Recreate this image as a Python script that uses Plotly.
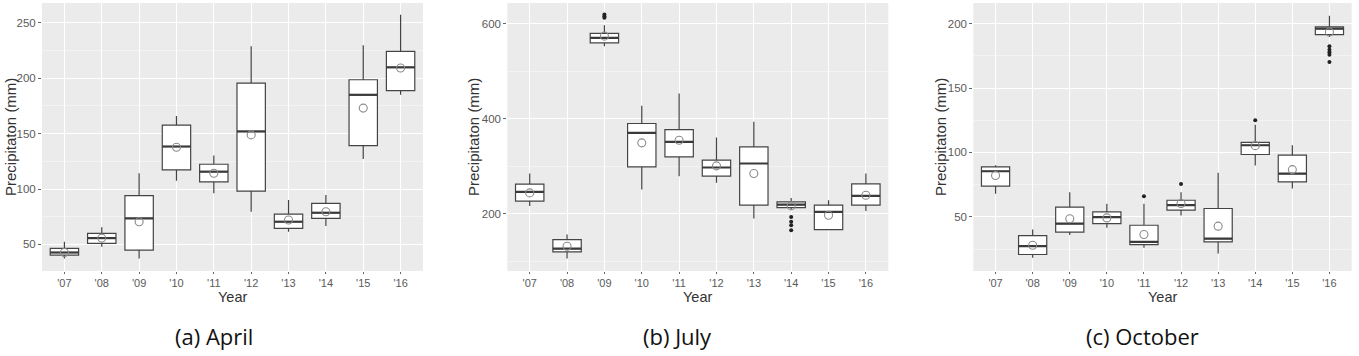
import plotly.graph_objects as go

W, H = 1359, 356
years = ["'07", "'08", "'09", "'10", "'11", "'12", "'13", "'14", "'15", "'16"]

# April
apr_low = [37.3, 47.9, 37.3, 107.6, 96.1, 79.5, 61.4, 66.6, 127.2, 185.1]
apr_q1 = [40.3, 50.9, 44.8, 117.3, 106.4, 98.2, 64.5, 73.5, 139.3, 188.8]
apr_med = [42.7, 55.7, 73.5, 138.4, 115.7, 152.0, 70.5, 78.6, 185.1, 209.9]
apr_q3 = [46.4, 60.0, 94.0, 157.7, 122.4, 195.7, 77.4, 87.1, 198.7, 224.4]
apr_high = [52.4, 65.4, 114.2, 166.0, 130.2, 228.9, 90.1, 94.6, 229.8, 257.5]
apr_mean = [42.7, 55.7, 70.5, 137.8, 114.2, 148.9, 72.0, 79.5, 173.1, 209.3]
apr_out_x = []
apr_out_y = []

# July
jul_low = [216.8, 106.1, 552.4, 251.1, 279.2, 265.2, 190.2, 209.1, 165.7, 206.3]
jul_q1 = [226.6, 120.2, 559.4, 298.8, 319.8, 279.2, 218.2, 213.3, 167.1, 218.2]
jul_med = [246.3, 127.2, 569.9, 370.2, 351.3, 297.4, 305.8, 219.6, 204.2, 237.8]
jul_q3 = [262.4, 146.1, 579.0, 389.9, 377.2, 312.8, 340.8, 225.2, 218.2, 263.1]
jul_high = [284.8, 156.6, 596.5, 427.0, 452.9, 360.4, 393.3, 233.6, 228.7, 284.8]
jul_mean = [244.1, 132.1, 573.4, 349.2, 354.8, 300.9, 284.8, 216.8, 197.2, 239.2]
jul_out_x = ["'09", "'09", "'09", "'14", "'14", "'14", "'14"]
jul_out_y = [612, 615, 619, 193.7, 183.2, 176.2, 165.7]

# October
oct_low = [67.9, 18.2, 36.0, 41.5, 26.0, 51.0, 21.6, 89.8, 72.0, 189.7]
oct_q1 = [73.8, 20.8, 38.1, 44.8, 28.5, 55.2, 30.6, 98.4, 77.2, 191.5]
oct_med = [85.4, 27.3, 44.8, 49.8, 30.6, 59.1, 33.2, 105.6, 83.6, 196.1]
oct_q3 = [88.8, 35.5, 57.5, 53.9, 43.5, 62.9, 56.5, 107.9, 97.9, 197.4]
oct_high = [90.1, 40.2, 69.1, 60.1, 60.1, 69.1, 84.2, 121.6, 105.6, 206.2]
oct_mean = [82.1, 28.0, 48.5, 49.2, 36.3, 60.4, 42.8, 105.3, 86.7, 193.5]
oct_out_x = ["'11", "'12", "'14", "'16", "'16", "'16", "'16", "'16"]
oct_out_y = [66.0, 75.6, 125.0, 182.4, 179.8, 177.8, 175.9, 170.3]

captions = ["(a) April", "(b) July", "(c) October"]
y_title = "Precipitaton (mm)"
x_title = "Year"

panels = [
    dict(low=apr_low, q1=apr_q1, med=apr_med, q3=apr_q3, high=apr_high, mean=apr_mean,
         ox=apr_out_x, oy=apr_out_y, px=(42, 423), yr=[26, 268], dt=50),
    dict(low=jul_low, q1=jul_q1, med=jul_med, q3=jul_q3, high=jul_high, mean=jul_mean,
         ox=jul_out_x, oy=jul_out_y, px=(507.3, 888.3), yr=[80, 643], dt=200),
    dict(low=oct_low, q1=oct_q1, med=oct_med, q3=oct_q3, high=oct_high, mean=oct_mean,
         ox=oct_out_x, oy=oct_out_y, px=(973.3, 1351.7), yr=[8, 216], dt=50),
]
ytitle_x = [10, 473, 940]
caption_x = [214, 677, 1142]

fig = go.Figure()
BOXW = 0.76
ytop, ybot = 3, 271
layout = dict(
    width=W, height=H, margin=dict(l=0, r=0, t=0, b=0),
    paper_bgcolor="white", plot_bgcolor="#EBEBEB", showlegend=False,
    font=dict(family="Liberation Sans, Arial", color="#4D4D4D"),
)
annotations = []
for i, p in enumerate(panels):
    n = "" if i == 0 else str(i + 1)
    xa, ya = "x" + n, "y" + n
    fig.add_trace(go.Box(
        x=years, q1=p["q1"], median=p["med"], q3=p["q3"],
        lowerfence=p["low"], upperfence=p["high"],
        xaxis=xa, yaxis=ya, width=BOXW, whiskerwidth=0,
        fillcolor="white", line=dict(color="#444444", width=1.2),
        boxpoints=False, hoverinfo="skip"))
    pw = p["px"][1] - p["px"][0]
    boxpx = BOXW * pw / 10.2
    fig.add_trace(go.Scatter(
        x=years, y=p["med"], mode="markers", xaxis=xa, yaxis=ya,
        marker=dict(symbol="line-ew", size=boxpx / 1.4,
                    line=dict(color="#3a3a3a", width=2.2)),
        hoverinfo="skip"))
    fig.add_trace(go.Scatter(
        x=p["ox"], y=p["oy"], mode="markers", xaxis=xa, yaxis=ya,
        marker=dict(symbol="circle", size=4, color="#222"),
        hoverinfo="skip"))
    fig.add_trace(go.Scatter(
        x=years, y=p["mean"], mode="markers", xaxis=xa, yaxis=ya,
        marker=dict(symbol="circle-open", size=8, color="#8a8a8a",
                    line=dict(width=1.1)),
        hoverinfo="skip"))
    layout["xaxis" + n] = dict(
        domain=[p["px"][0] / W, p["px"][1] / W], anchor=ya,
        type="category", categoryorder="array", categoryarray=years,
        range=[-0.6, 9.6], showgrid=True, gridcolor="white", gridwidth=1,
        ticks="outside", ticklen=2, tickcolor="#666", tickwidth=1,
        tickfont=dict(size=11, color="#5A5A5A"), zeroline=False, showline=False)
    layout["yaxis" + n] = dict(
        domain=[1 - ybot / H, 1 - ytop / H], anchor=xa,
        range=p["yr"], dtick=p["dt"], tick0=0, showgrid=True,
        gridcolor="white", gridwidth=1,
        minor=dict(dtick=p["dt"] / 2, showgrid=True, gridcolor="#F3F3F3", gridwidth=0.6),
        ticks="outside", ticklen=3, tickcolor="#666", tickwidth=1,
        tickfont=dict(size=11.5, color="#5A5A5A"), zeroline=False, showline=False)
    cx = (p["px"][0] + p["px"][1]) / 2
    annotations.append(dict(
        text=x_title, x=cx / W, y=1 - 297 / H, xref="paper", yref="paper",
        showarrow=False, xanchor="center", yanchor="middle",
        font=dict(size=14.5, color="#333")))
    annotations.append(dict(
        text=y_title, x=ytitle_x[i] / W, y=1 - 137 / H, xref="paper", yref="paper",
        showarrow=False, xanchor="center", yanchor="middle", textangle=-90,
        font=dict(size=15, color="#333")))
    annotations.append(dict(
        text=captions[i], x=caption_x[i] / W, y=1 - 336 / H, xref="paper", yref="paper",
        showarrow=False, xanchor="center", yanchor="middle",
        font=dict(size=22, color="#111", family="Open Sans")))
layout["annotations"] = annotations
fig.update_layout(**layout)
fig.write_html("out.html")
